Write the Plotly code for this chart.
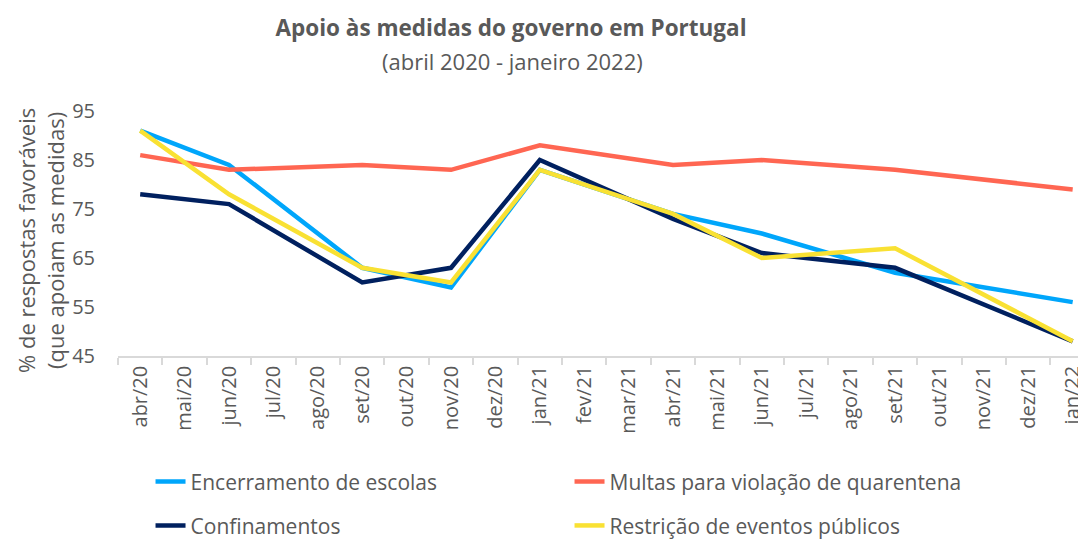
import plotly.graph_objects as go

months = ["abr/20", "mai/20", "jun/20", "jul/20", "ago/20", "set/20", "out/20", "nov/20",
          "dez/20", "jan/21", "fev/21", "mar/21", "abr/21", "mai/21", "jun/21", "jul/21",
          "ago/21", "set/21", "out/21", "nov/21", "dez/21", "jan/22"]

N = None
escolas =      [91, N, 84, N, N, 63, N, 59, N, 83, N, N, 74, N, 70, N, N, 62, N, N, N, 56]
multas =       [86, N, 83, N, N, 84, N, 83, N, 88, N, N, 84, N, 85, N, N, 83, N, N, N, 79]
confinamentos = [78, N, 76, N, N, 60, N, 63, N, 85, N, N, 73, N, 66, N, N, 63, N, N, N, 48]
eventos =      [91, N, 78, N, N, 63, N, 60, N, 83, N, N, 74, N, 65, N, N, 67, N, N, N, 48]

series = [
    ("Encerramento de escolas", escolas, "#00A6FB", "legend"),
    ("Multas para violação de quarentena", multas, "#FF6652", "legend"),
    ("Confinamentos", confinamentos, "#00205F", "legend2"),
    ("Restrição de eventos públicos", eventos, "#F9E133", "legend2"),
]

TXT = "#595959"
FONT = "Open Sans"
# the page body adds an 8px margin, so the figure is 8px smaller and offset
W, H = 1078, 532

fig = go.Figure()
for name, vals, color, lg in series:
    fig.add_trace(go.Scatter(
        x=months, y=vals, name=name, mode="lines", connectgaps=True,
        line=dict(color=color, width=4.5), legend=lg,
    ))

fig.update_layout(
    width=W, height=H,
    margin=dict(l=110, r=0, t=102.5, b=183.5, autoexpand=False),
    plot_bgcolor="white", paper_bgcolor="white",
    font=dict(family=FONT, color=TXT, size=18),
    title=dict(text="<b>Apoio às medidas do governo em Portugal</b>",
               x=503 / W, xanchor="center", y=1 - 20 / H, yanchor="middle",
               font=dict(size=22.5, color=TXT, family=FONT)),
    showlegend=True,
    legend=dict(orientation="h", x=0.0336, xanchor="left", y=-0.514, yanchor="middle",
                entrywidth=374, entrywidthmode="pixels",
                font=dict(size=21, color=TXT, family=FONT), bgcolor="rgba(0,0,0,0)"),
    legend2=dict(orientation="h", x=0.0336, xanchor="left", y=-0.693, yanchor="middle",
                 entrywidth=374, entrywidthmode="pixels",
                 font=dict(size=21, color=TXT, family=FONT), bgcolor="rgba(0,0,0,0)"),
)

fig.update_xaxes(
    type="category", range=[-0.5, 21.3], automargin=False,
    showline=True, linecolor="#D9D9D9", linewidth=1.5,
    ticks="outside", tickson="boundaries", ticklen=7, tickcolor="#D9D9D9", tickwidth=1.5,
    tickangle=-90, tickfont=dict(size=20, color=TXT, family=FONT),
    showgrid=False, zeroline=False,
)
fig.update_yaxes(
    range=[45, 95], tickvals=[45, 55, 65, 75, 85, 95], automargin=False,
    showline=False, showgrid=False, zeroline=False, ticks="",
    ticklabelstandoff=22, tickfont=dict(size=20, color=TXT, family=FONT),
)

fig.add_annotation(
    text="(abril 2020 - janeiro 2022)", xref="paper", yref="paper",
    x=(512 - 118) / 968, y=(356.5 - 60) / 246, xanchor="center", yanchor="middle",
    showarrow=False, font=dict(size=22, color=TXT, family=FONT),
)
fig.add_annotation(
    text="% de respostas favoráveis<br>(que apoiam as medidas)", xref="paper", yref="paper",
    x=(41 - 118) / 968, y=(356.5 - 241) / 246, xanchor="center", yanchor="middle",
    textangle=-90, showarrow=False, font=dict(size=22, color=TXT, family=FONT),
)

fig.write_html("out.html")
